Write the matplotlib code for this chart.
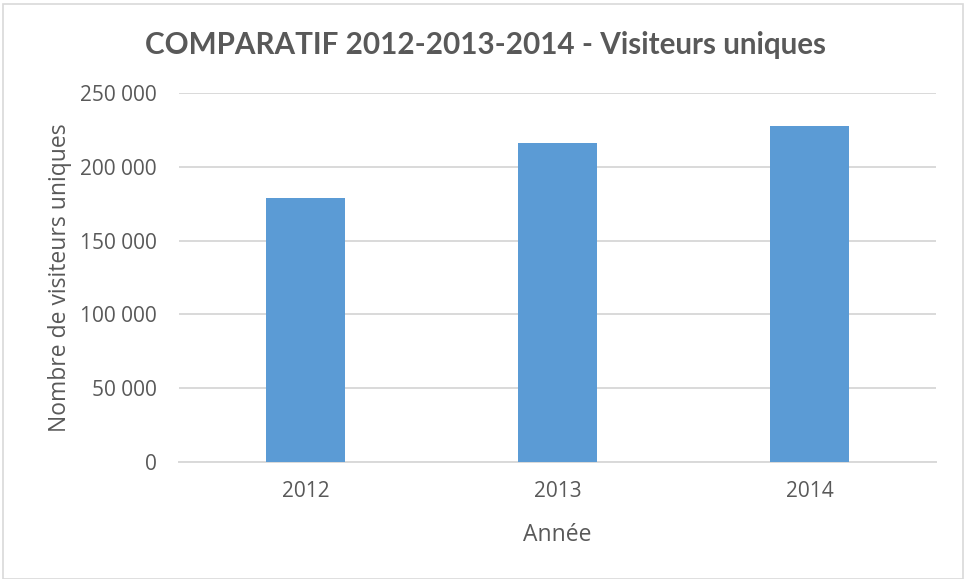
import matplotlib
matplotlib.use("Agg")
import matplotlib.pyplot as plt
from matplotlib.patches import Rectangle
from matplotlib.ticker import FuncFormatter

years = ["2012", "2013", "2014"]
visitors = [179000, 216000, 228000]
yticks = [0, 50000, 100000, 150000, 200000, 250000]

gray_text = "#595959"
grid_c = "#D9D9D9"
bar_c = "#5B9BD5"

fig = plt.figure(figsize=(9.65, 5.79), dpi=100)
ax = fig.add_axes([0.1858, 0.2024, 0.9696 - 0.1858, 0.8389 - 0.2024])

x = list(range(len(years)))
ax.bar(x, visitors, width=0.314, color=bar_c, zorder=3)
ax.set_xlim(-0.5, len(years) - 0.5)
ax.set_ylim(0, 250000)
ax.set_yticks(yticks)
ax.yaxis.set_major_formatter(FuncFormatter(lambda v, p: f"{int(v):,}".replace(",", " ")))
ax.set_xticks(x)
ax.set_xticklabels(years)
ax.grid(axis="y", color=grid_c, linewidth=1.4, zorder=0)
for s in ["top", "right", "left"]:
    ax.spines[s].set_visible(False)
ax.spines["bottom"].set_color(grid_c)
ax.spines["bottom"].set_linewidth(1.4)
ax.tick_params(axis="both", length=0, colors=gray_text, labelsize=15)
ax.tick_params(axis="x", pad=14)
ax.tick_params(axis="y", pad=16)
for lab in ax.get_xticklabels() + ax.get_yticklabels():
    lab.set_family("Open Sans")

ax.set_xlabel("Année", fontsize=16.5, color=gray_text, family="Open Sans", labelpad=15)
ax.set_ylabel("Nombre de visiteurs uniques", fontsize=16.5, color=gray_text, family="Open Sans", labelpad=6)

fig.text(0.503, 0.923, "COMPARATIF 2012-2013-2014 - Visiteurs uniques", ha="center", va="center",
         fontsize=21.3, fontweight="bold", color=gray_text, family="Lato")

fig.patches.append(Rectangle((3/965, 0.0), 960/965, 1 - 4/579, transform=fig.transFigure,
                             fill=False, edgecolor="#D9D9D9", linewidth=1.2))

fig.savefig("out.png", dpi=100, facecolor="white")
